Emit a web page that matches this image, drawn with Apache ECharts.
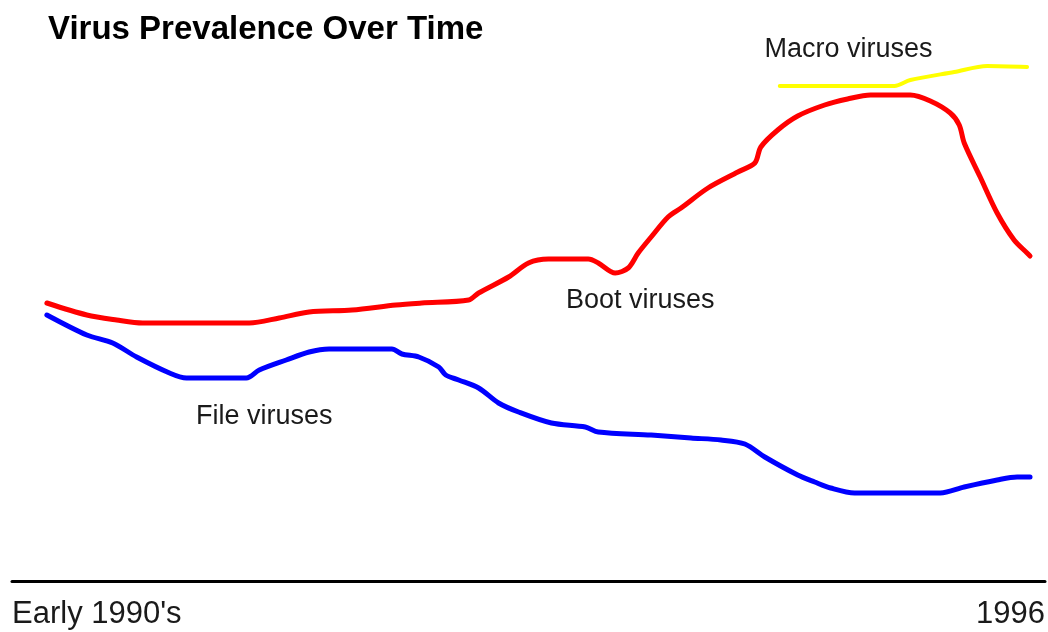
<!DOCTYPE html>
<html>
<head>
<meta charset="utf-8">
<script src="https://cdn.jsdelivr.net/npm/echarts@6/dist/echarts.min.js"></script>
<style>
html,body{margin:0;padding:0;background:#fff;}
#chart{width:1048px;height:632px;}
</style>
</head>
<body>
<div id="chart"></div>
<script>
// x: time units (0 = axis start), y: relative prevalence
const bootViruses = [
  [35,55.6],[75,53.2],[105,52.2],[131,51.6],[238,51.6],[268,52.6],[298,53.8],[341,54.2],
  [385,55.2],[411,55.6],[458,56.2],[468,57.6],[498,60.8],[518,63.6],[538,64.4],[578,64.4],
  [588,63.6],[605,61.6],[618,62.6],[628,65.6],[641,68.8],[658,72.8],[671,74.6],[698,78.6],
  [728,81.8],[745,83.6],[751,86.8],[768,90.2],[788,93],[815,95.2],[838,96.4],[861,97.2],
  [901,97.2],[921,96],[941,93.6],[950,91.2],[955,87.6],[971,80.8],[988,73.6],[1005,68.2],
  [1018,65.6],[1021,65]
];
const fileViruses = [
  [35,53.2],[75,49.2],[101,47.6],[125,44.8],[158,41.6],[175,40.6],[235,40.6],[248,42.2],
  [275,44.2],[298,45.8],[318,46.4],[381,46.4],[391,45.4],[408,44.8],[428,42.8],[435,41.2],
  [448,40.2],[468,38.6],[488,35.6],[508,33.8],[541,31.6],[575,30.8],[588,29.8],[641,29.2],
  [681,28.6],[711,28.2],[735,27.4],[755,24.8],[788,21.2],[805,19.8],[821,18.6],[845,17.6],
  [931,17.6],[955,18.8],[988,20.2],[1008,20.8],[1021,20.8]
];
const macroViruses = [
  [770,99],[885,99],[901,100.2],[945,101.8],[978,103],[1018,102.8]
];
const seriesNames = ['Boot viruses','File viruses','Macro viruses'];
const tickLabels = ["Early 1990's", '1996'];
const axisRange = [0, 1036];
const titleText = 'Virus Prevalence Over Time';

const FONT = 'Liberation Sans, Arial, sans-serif';
const chart = echarts.init(document.getElementById('chart'), null, {renderer:'canvas'});

function nameLabel(text, coord){
  return {
    symbol:'circle',
    symbolSize:1,
    silent:true,
    itemStyle:{color:'rgba(0,0,0,0)'},
    label:{show:true, position:'inside', formatter:text, color:'#1a1a1a', fontSize:27, fontFamily:FONT},
    data:[{coord:coord}]
  };
}

chart.setOption({
  animation:false,
  backgroundColor:'#ffffff',
  title:{
    text:titleText,
    left:43, top:8,
    textStyle:{fontFamily:FONT, fontSize:33, fontWeight:'bold', color:'#000'}
  },
  grid:{left:12, right:0, top:31, bottom:51, containLabel:false},
  xAxis:{
    type:'value', min:axisRange[0], max:axisRange[1],
    splitLine:{show:false},
    axisTick:{show:false},
    axisLine:{show:true, lineStyle:{color:'#000', width:3}},
    axisLabel:{
      show:true,
      customValues:axisRange,
      formatter:function(v){ return v === axisRange[0] ? tickLabels[0] : tickLabels[1]; },
      alignMinLabel:'left', alignMaxLabel:'right',
      margin:18,
      fontFamily:FONT, fontSize:31, color:'#1a1a1a'
    }
  },
  yAxis:{
    type:'value', min:0, max:110, show:false
  },
  series:[
    {
      name:seriesNames[0], type:'line', data:bootViruses, smooth:0.3, showSymbol:false,
      lineStyle:{color:'#ff0000', width:5, cap:'round', join:'round'},
      markPoint:nameLabel(seriesNames[0], [630,56])
    },
    {
      name:seriesNames[1], type:'line', data:fileViruses, smooth:0.3, showSymbol:false,
      lineStyle:{color:'#0000ff', width:5, cap:'round', join:'round'},
      markPoint:nameLabel(seriesNames[1], [253,32.8])
    },
    {
      name:seriesNames[2], type:'line', data:macroViruses, smooth:0.3, showSymbol:false,
      lineStyle:{color:'#ffff00', width:4, cap:'round', join:'round'},
      markPoint:nameLabel(seriesNames[2], [839,106.2])
    }
  ]
});
</script>
</body>
</html>
